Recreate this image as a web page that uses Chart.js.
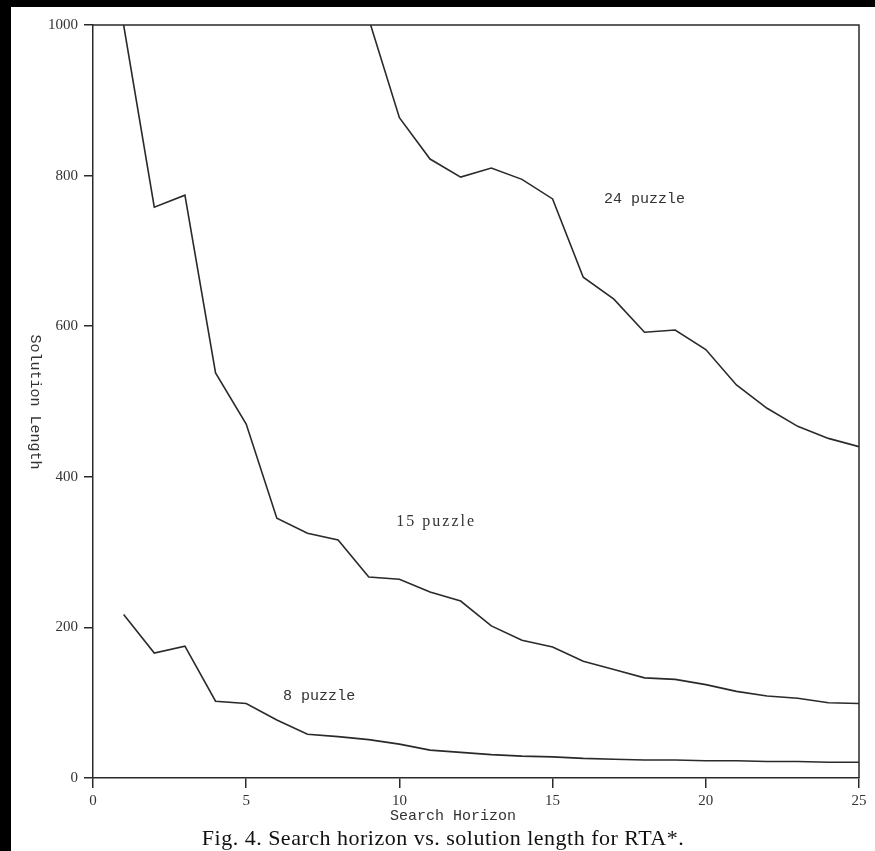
<!DOCTYPE html>
<html>
<head>
<meta charset="utf-8">
<script src="https://cdn.jsdelivr.net/npm/chart.js@4.4.1/dist/chart.umd.min.js"></script>
<style>
  html, body { margin: 0; padding: 0; background: #000; }
  body { width: 875px; height: 851px; position: relative; overflow: hidden; }
  #wrap { position: absolute; left: 11px; top: 7px; width: 864px; height: 844px; background: #fff; }
  #caption {
    position: absolute; left: 0; top: 825px; width: 886px; text-align: center;
    font-family: 'Liberation Serif', 'Times New Roman', serif; font-size: 22px; color: #111;
    letter-spacing: 0.5px; white-space: nowrap;
  }
</style>
</head>
<body>
<div id="wrap"><canvas id="chart" width="864" height="844"></canvas></div>
<div id="caption">Fig. 4. Search horizon vs. solution length for RTA*.</div>
<script>
// данные
const horizons = [1, 2, 3, 4, 5, 6, 7, 8, 9, 10, 11, 12, 13, 14, 15, 16, 17, 18, 19, 20, 21, 22, 23, 24, 25];
const puzzle8 = [217, 166, 175, 102, 99, 77, 58, 55, 51, 45, 37, 34, 31, 29, 28, 26, 25, 24, 24, 23, 23, 22, 22, 21, 21];
const puzzle15 = [1000, 758, 774, 538, 470, 345, 325, 316, 267, 264, 247, 235, 202, 183, 174, 155, 144, 133, 131, 124, 115, 109, 106, 100, 99];
const puzzle24 = [null, null, null, null, null, null, null, null, 1008, 877, 822, 798, 810, 795, 769, 665, 636, 592, 595, 569, 522, 491, 467, 451, 440];
const xTicks = [0, 5, 10, 15, 20, 25];
const yTicks = [0, 200, 400, 600, 800, 1000];

// подписи кривых (в координатах данных)
const curveLabels = [
  { text: '8 puzzle', x: 7.38, y: 109, font: '15px "Liberation Mono", monospace', spacing: '0px' },
  { text: '15 puzzle', x: 11.2, y: 340, font: '16px "Liberation Serif", serif', spacing: '2px' },
  { text: '24 puzzle', x: 18.0, y: 769, font: '15px "Liberation Mono", monospace', spacing: '0px' }
];

const ink = '#2a2a2a';

function toPoints(values) {
  return horizons.map((h, i) => ({ x: h, y: values[i] }));
}

function lineSet(label, values) {
  return {
    label: label,
    data: toPoints(values),
    borderColor: ink,
    borderWidth: 1.6,
    pointRadius: 0,
    tension: 0,
    fill: false,
    spanGaps: false
  };
}

// рамка, подписи осей и кривых
const annotations = {
  id: 'annotations',
  afterDraw(chart) {
    const ctx = chart.ctx;
    const area = chart.chartArea;
    const xs = chart.scales.x;
    const ys = chart.scales.y;
    ctx.save();
    ctx.strokeStyle = ink;
    ctx.lineWidth = 1.5;
    ctx.beginPath();
    ctx.moveTo(area.left, area.top);
    ctx.lineTo(area.right, area.top);
    ctx.lineTo(area.right, area.bottom);
    ctx.stroke();

    ctx.fillStyle = '#333';
    ctx.textAlign = 'center';
    ctx.textBaseline = 'middle';
    curveLabels.forEach(l => {
      ctx.font = l.font;
      ctx.letterSpacing = l.spacing;
      ctx.fillText(l.text, xs.getPixelForValue(l.x), ys.getPixelForValue(l.y));
    });
    ctx.letterSpacing = '0px';

    ctx.font = '15px "Liberation Mono", monospace';
    ctx.fillText('Search Horizon', 442, 809);

    ctx.translate(24, 395);
    ctx.rotate(Math.PI / 2);
    ctx.fillText('Solution Length', 0, 0);
    ctx.restore();
  }
};

new Chart(document.getElementById('chart'), {
  type: 'line',
  data: {
    datasets: [
      lineSet('8 puzzle', puzzle8),
      lineSet('15 puzzle', puzzle15),
      lineSet('24 puzzle', puzzle24)
    ]
  },
  options: {
    responsive: false,
    animation: false,
    layout: { padding: { top: 18, right: 16, left: 0, bottom: 0 } },
    plugins: {
      legend: { display: false },
      tooltip: { enabled: false }
    },
    scales: {
      x: {
        type: 'linear',
        min: 0,
        max: 25,
        afterFit: s => { s.height = 73; },
        afterBuildTicks: s => { s.ticks = xTicks.map(v => ({ value: v })); },
        border: { display: true, color: ink, width: 1.5 },
        grid: { drawOnChartArea: false, drawTicks: true, tickLength: 10, color: ink, lineWidth: 1.5 },
        ticks: {
          color: '#333',
          padding: 4,
          maxRotation: 0,
          callback: v => String(v),
          font: { family: '"Liberation Serif", serif', size: 15 }
        }
      },
      y: {
        type: 'linear',
        min: 0,
        max: 1000,
        afterFit: s => { s.width = 82; },
        afterBuildTicks: s => { s.ticks = yTicks.map(v => ({ value: v })); },
        border: { display: true, color: ink, width: 1.5 },
        grid: { drawOnChartArea: false, drawTicks: true, tickLength: 9, color: ink, lineWidth: 1.5 },
        ticks: {
          color: '#333',
          padding: 6,
          callback: v => String(v),
          font: { family: '"Liberation Serif", serif', size: 15 }
        }
      }
    }
  },
  plugins: [annotations]
});
</script>
</body>
</html>
